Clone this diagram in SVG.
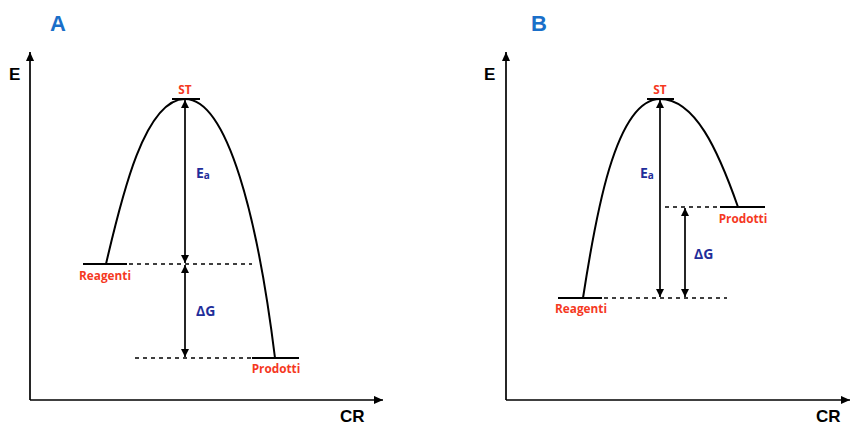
<svg xmlns="http://www.w3.org/2000/svg" width="850" height="425" viewBox="0 0 850 425">
<style>
.ax{stroke:#000;stroke-width:1.7;fill:none}
.lv{stroke:#000;stroke-width:2;fill:none}
.ds{stroke:#000;stroke-width:1.7;fill:none;stroke-dasharray:4 4}
.cv{stroke:#000;stroke-width:2;fill:none}
.ar{stroke:#000;stroke-width:1.7;fill:none}
.pl{font-family:"Liberation Sans",Arial,sans-serif;font-weight:bold;font-size:22px;fill:#1a6fc9}
.axl{font-family:"Liberation Sans",Arial,sans-serif;font-weight:bold;font-size:17px;fill:#000}
.rl{font-family:"Open Sans","DejaVu Sans",sans-serif;font-weight:bold;font-size:11.8px;fill:#f5391f;text-anchor:middle}
.bl{font-family:"Open Sans","DejaVu Sans",sans-serif;font-weight:bold;font-size:14px;fill:#1f2e9a}
.sub{font-size:10px}
</style>
<defs>
<marker id="ah" viewBox="0 0 10 10" refX="10" refY="5" markerWidth="9" markerHeight="8" markerUnits="userSpaceOnUse" orient="auto-start-reverse"><path d="M0,0 L10,5 L0,10 Z" fill="#000"/></marker>
<marker id="axh" viewBox="0 0 10 10" refX="10" refY="5" markerWidth="10" markerHeight="9" markerUnits="userSpaceOnUse" orient="auto"><path d="M0,0.5 L10,5 L0,9.5 Z" fill="#000"/></marker>
</defs>

<g id="panelA">
<text class="pl" x="50" y="31">A</text>
<g id="axesA">
<line class="ax" x1="30" y1="400" x2="30" y2="52" marker-end="url(#axh)"/>
<line class="ax" x1="30" y1="400" x2="383" y2="400" marker-end="url(#axh)"/>
<text class="axl" x="9" y="80">E</text>
<text class="axl" x="340" y="422">CR</text>
</g>
<g id="STA">
<line class="lv" x1="172" y1="99" x2="200" y2="99"/>
<text class="rl" x="185" y="94">ST</text>
</g>
<g id="ReagentiA">
<line class="lv" x1="83" y1="264" x2="127" y2="264"/>
<text class="rl" x="105" y="280">Reagenti</text>
</g>
<g id="ProdottiA">
<line class="lv" x1="252" y1="358" x2="299" y2="358"/>
<text class="rl" x="276" y="373">Prodotti</text>
</g>
<g id="connectorsA">
<path class="cv" d="M106,264 C122,195 145,99 185,99 C228,99 258,220 275,358"/>
<line class="ds" x1="129" y1="264" x2="252" y2="264"/>
<line class="ds" x1="135" y1="358" x2="252" y2="358"/>
<line class="ar" x1="185" y1="100" x2="185" y2="263" marker-start="url(#ah)" marker-end="url(#ah)"/>
<line class="ar" x1="185" y1="265" x2="185" y2="357" marker-start="url(#ah)" marker-end="url(#ah)"/>
</g>
<text class="bl" x="196" y="178">E<tspan class="sub" dy="1">a</tspan></text>
<text class="bl" x="196" y="316">ΔG</text>
</g>

<g id="panelB">
<text class="pl" x="531" y="31">B</text>
<g id="axesB">
<line class="ax" x1="506" y1="400" x2="506" y2="52" marker-end="url(#axh)"/>
<line class="ax" x1="506" y1="400" x2="850" y2="400" marker-end="url(#axh)"/>
<text class="axl" x="484" y="80">E</text>
<text class="axl" x="816" y="422">CR</text>
</g>
<g id="STB">
<line class="lv" x1="647" y1="99" x2="674" y2="99"/>
<text class="rl" x="660" y="94">ST</text>
</g>
<g id="ReagentiB">
<line class="lv" x1="558" y1="298" x2="602" y2="298"/>
<text class="rl" x="581" y="313">Reagenti</text>
</g>
<g id="ProdottiB">
<line class="lv" x1="720" y1="207" x2="765" y2="207"/>
<text class="rl" x="743" y="223">Prodotti</text>
</g>
<g id="connectorsB">
<path class="cv" d="M583,298 C595,220 615,99 660,99 C695,99 718,150 738,207"/>
<line class="ds" x1="604" y1="298" x2="727" y2="298"/>
<line class="ds" x1="665" y1="207" x2="720" y2="207"/>
<line class="ar" x1="660" y1="100" x2="660" y2="297" marker-start="url(#ah)" marker-end="url(#ah)"/>
<line class="ar" x1="685" y1="208" x2="685" y2="297" marker-start="url(#ah)" marker-end="url(#ah)"/>
</g>
<text class="bl" x="640" y="178">E<tspan class="sub" dy="1">a</tspan></text>
<text class="bl" x="694" y="259">ΔG</text>
</g>
</svg>
